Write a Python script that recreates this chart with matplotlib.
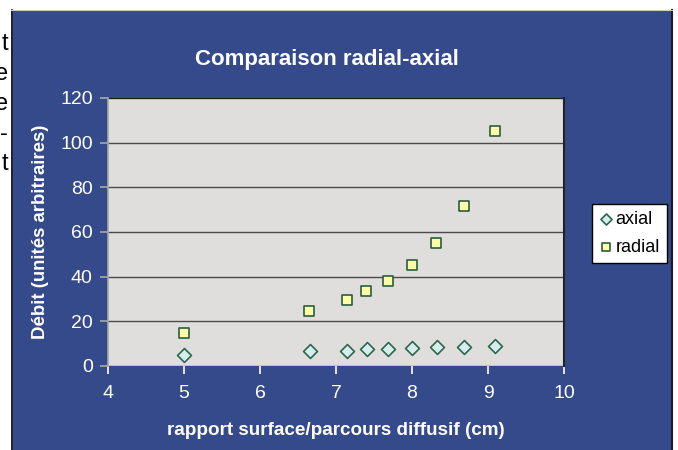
import matplotlib
matplotlib.use("Agg")
import matplotlib.pyplot as plt
from matplotlib.patches import Rectangle
from matplotlib.lines import Line2D

plt.rcParams['font.family'] = ['Liberation Sans', 'DejaVu Sans']

# Data
x_axial = [5.0, 6.66, 7.14, 7.41, 7.69, 8.0, 8.33, 8.69, 9.09]
y_axial = [5.1, 6.6, 6.9, 7.5, 7.5, 8.1, 8.5, 8.5, 9.1]
x_radial = [5.0, 6.65, 7.14, 7.40, 7.68, 8.0, 8.32, 8.68, 9.09]
y_radial = [14.6, 24.8, 29.7, 33.7, 38.2, 45.2, 55.2, 71.6, 105.2]
x_ticks = [4, 5, 6, 7, 8, 9, 10]
y_ticks = [0, 20, 40, 60, 80, 100, 120]
title = "Comparaison radial-axial"
xlabel = "rapport surface/parcours diffusif (cm)"
ylabel = "Débit (unités arbitraires)"
side_letters = ["t", "e", "e", "-", "t"]

W, H = 678, 450
fig = plt.figure(figsize=(W / 100, H / 100), dpi=100)
fig.patch.set_facecolor('white')

def fx(px):
    return px / W

def fy(py):
    return 1 - py / H

blue = '#354A8A'
# Blue chart background
fig.add_artist(Rectangle((fx(11), 0), fx(672) - fx(11), fy(10), transform=fig.transFigure,
                         facecolor=blue, edgecolor='none', zorder=-5))
# dark borders
fig.add_artist(Line2D([fx(11.5), fx(11.5)], [0, fy(10)], transform=fig.transFigure, color='#1a1a2a', lw=1.2, zorder=-4))
fig.add_artist(Line2D([fx(671.5), fx(671.5)], [0, fy(10)], transform=fig.transFigure, color='#1a1a2a', lw=1.5, zorder=-4))
fig.add_artist(Line2D([fx(11), fx(672)], [fy(10.3), fy(10.3)], transform=fig.transFigure, color='#c8c8c8', lw=0.8, zorder=-4))

# Side text fragments
baselines = [50, 80, 110, 140, 170]
for ch, b in zip(side_letters, baselines):
    fig.text(fx(8), fy(b), ch, ha='right', va='baseline', fontsize=17, color='black')

ax = fig.add_axes([fx(108), fy(366), fx(564) - fx(108), fy(98) - fy(366)])
ax.set_facecolor('#E0DEDC')

ax.scatter(x_axial, y_axial, marker='D', s=50, facecolor='#D6EEEA', edgecolor='#2A6650',
           linewidth=1.2, zorder=3, label='axial')
ax.scatter(x_radial, y_radial, marker='s', s=50, facecolor='#FFFFA8', edgecolor='#2A5E3E',
           linewidth=1.2, zorder=3, label='radial')

ax.set_xlim(4, 10)
ax.set_ylim(0, 120)
ax.set_xticks(x_ticks)
ax.set_yticks(y_ticks)
ax.yaxis.grid(True, color='#4a4a4a', lw=1.0)
ax.set_axisbelow(True)

for s in ['top', 'bottom']:
    ax.spines[s].set_visible(False)
ax.spines['left'].set_color('#A8A8A8')
ax.spines['left'].set_linewidth(1.2)
ax.spines['right'].set_color('#222222')
ax.spines['right'].set_linewidth(1.5)
ax.axhline(120, color='#111111', lw=1.2, zorder=2)

ax.tick_params(axis='x', colors='white', length=6, width=1.2, labelsize=14, pad=8, direction='out')
ax.tick_params(axis='y', colors='#A8A8A8', length=6, width=1.2, labelsize=14, pad=5, direction='out')
for lab in ax.get_xticklabels() + ax.get_yticklabels():
    lab.set_color('white')

ax.set_xlabel(xlabel, color='white', fontsize=13.6, fontweight='bold', labelpad=14)
ax.set_ylabel(ylabel, color='white', fontsize=13.4, fontweight='bold', labelpad=8)

fig.text(fx(327), fy(60), title, ha='center', va='center', color='white', fontsize=16, fontweight='bold')

leg = ax.legend(loc='upper left', bbox_to_anchor=(fx(592), fy(204)), bbox_transform=fig.transFigure,
                frameon=True, fancybox=False, fontsize=13, handletextpad=0.2, borderpad=0.4,
                labelspacing=0.6, handlelength=0.7, borderaxespad=0, markerscale=0.8)
leg.get_frame().set_edgecolor('black')
leg.get_frame().set_linewidth(1.0)
leg.get_frame().set_facecolor('white')
leg.get_frame().set_alpha(1)

fig.savefig('out.png', dpi=100, facecolor=fig.get_facecolor())
